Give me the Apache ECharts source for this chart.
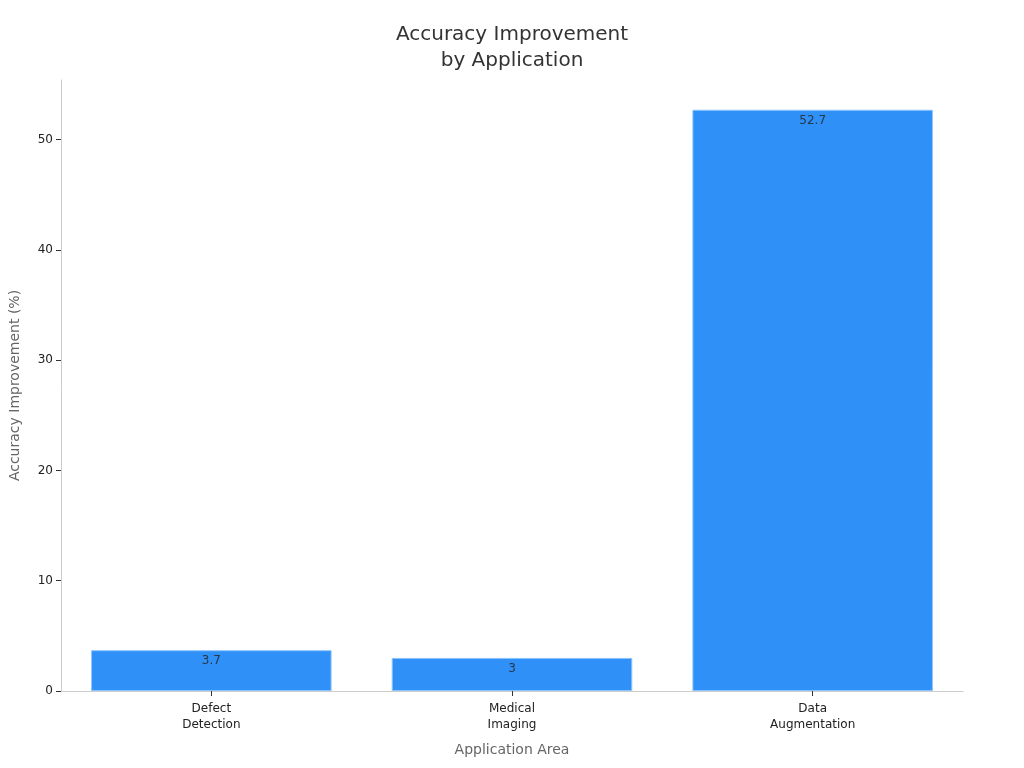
<!DOCTYPE html>
<html><head><meta charset="utf-8">
<script src="https://cdn.jsdelivr.net/npm/echarts@6/dist/echarts.min.js"></script>
<style>html,body{margin:0;padding:0;background:#fff}#c{width:1024px;height:768px}</style>
</head><body><div id="c"></div>
<script>
const categories = ["Defect\nDetection", "Medical\nImaging", "Data\nAugmentation"];
const improvement = [3.7, 3, 52.7];
const yTicks = [0, 10, 20, 30, 40, 50];

const chart = echarts.init(document.getElementById('c'));
chart.setOption({
  animation: false,
  textStyle: { fontFamily: 'DejaVu Sans' },
  title: {
    text: 'Accuracy Improvement\nby Application',
    left: 'center', top: 17,
    textStyle: { fontSize: 20, fontWeight: 'normal', color: '#333', lineHeight: 26, fontFamily: 'DejaVu Sans' }
  },
  grid: { left: 59, right: 61, top: 80, bottom: 77, containLabel: false },
  xAxis: {
    type: 'category', data: categories,
    name: 'Application Area', nameLocation: 'middle', nameGap: 52,
    nameTextStyle: { color: '#666', fontSize: 14 },
    axisLine: { lineStyle: { color: '#ccc' } },
    axisTick: { show: true, alignWithLabel: true, lineStyle: { color: '#333' }, length: 5 },
    axisLabel: { color: '#222', fontSize: 12, lineHeight: 16, margin: 10 }
  },
  yAxis: {
    type: 'value', min: 0, max: 55.4, interval: 10,
    name: 'Accuracy Improvement (%)', nameLocation: 'middle', nameGap: 39,
    nameTextStyle: { color: '#666', fontSize: 14 },
    axisLine: { show: true, lineStyle: { color: '#ccc' } },
    axisTick: { show: true, lineStyle: { color: '#333' }, length: 5, customValues: yTicks },
    axisLabel: { color: '#222', fontSize: 12, margin: 8, customValues: yTicks },
    splitLine: { show: false }
  },
  series: [{
    type: 'bar', data: improvement, barWidth: '80%',
    itemStyle: { color: '#2F90F8', borderColor: '#8cc4ff', borderWidth: 1 },
    label: { show: true, position: 'insideTop', distance: 5, color: 'rgba(40,40,40,0.85)', fontSize: 12 }
  }]
});
</script></body></html>
